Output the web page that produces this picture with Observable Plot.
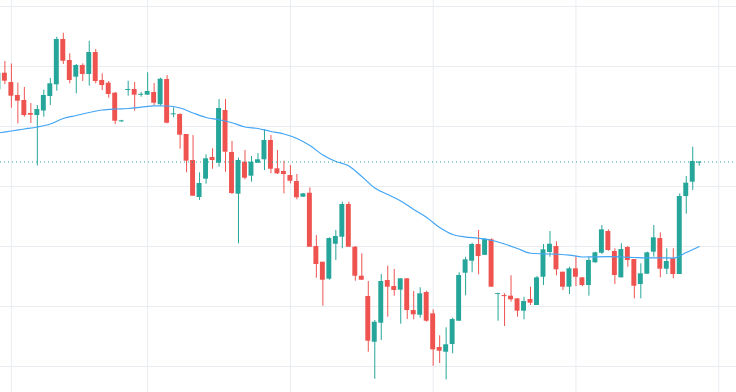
<!DOCTYPE html>
<html><head><meta charset="utf-8">
<script src="https://cdn.jsdelivr.net/npm/d3@7"></script>
<script src="https://cdn.jsdelivr.net/npm/@observablehq/plot@0.6"></script>
<style>html,body{margin:0;padding:0;background:#fff;overflow:hidden}</style>
</head><body><div id="chart"></div>
<script>
// Daily OHLC values, candle index 0..108
const opens = [
116.12, 118.88, 117.33, 115.17, 114.33, 112.17, 111.83, 112.58, 115, 116.95,
124.5, 121, 118.22, 120.17, 118.67, 122.33, 117.67, 117.22, 115.55, 110.78,
116.0, 116.17, 115.2, 115.22, 115.67, 113.62, 117.83, 111.95, 112, 108.67,
104.33, 98.17, 101.22, 104.83, 103.88, 112.67, 105.67, 98.72, 104.05, 101.72,
103.88, 104.45, 107.67, 102.95, 102.5, 101.83, 100.83, 98.22, 98.88, 90,
87.38, 84.55, 90.38, 91.55, 97, 89.88, 85.05, 81.67, 74.05, 77.22,
84.33, 83.33, 82.72, 84.62, 79.33, 78.55, 82.33, 78.78, 73.17, 72.38,
73.67, 77.55, 85.55, 87.55, 90.33, 88.53, 91.12, 82.0, 81.82, 81.72,
81.28, 79.22, 81.17, 80.17, 84.88, 89, 90, 85.72, 83.22, 86.28,
84.78, 83.5, 87.28, 88.88, 92.5, 89.17, 84.78, 89.83, 87.83, 83.67,
85.38, 89.05, 91.33, 86.22, 87.95, 85.33, 98.33, 100.72, 103.9
];
const highs = [
119.33, 120.83, 120.42, 117.25, 116.5, 113.83, 113.5, 116.08, 118, 124.88,
125.55, 122.12, 120.33, 120.45, 124.22, 122.83, 118.78, 117.5, 115.67, 111.03,
117.55, 117.33, 115.67, 118.95, 117.17, 118.05, 118.5, 113.12, 112.12, 108.67,
108.5, 102.28, 105.28, 106.28, 114.5, 114.5, 107.5, 104.72, 106, 105,
105.5, 109.45, 108.5, 106, 104.22, 103.5, 102, 98.78, 99.78, 91.83,
87.38, 91.45, 92.67, 97.38, 97.38, 90, 88.78, 84.17, 77.67, 85.33,
86.72, 86.17, 84.62, 84.62, 82.5, 83.12, 82.55, 79.45, 75.12, 76.45,
78.05, 85.62, 88.22, 90.55, 92.67, 91.28, 91.28, 82.22, 82.12, 85.12,
81.28, 81.55, 83.22, 85, 90.33, 92.5, 90.78, 85.72, 86.55, 88.33,
84.78, 88.22, 89.05, 93.5, 92.78, 89.62, 90.45, 90, 87.83, 87.12,
89.05, 93.5, 92.28, 89.62, 89.62, 98.78, 101.67, 106.55, 104.08
];
const lows = [
115.83, 117.0, 113.05, 110.45, 111.55, 110.5, 103.42, 111.55, 113.5, 115.88,
120.33, 117.12, 115.45, 117.5, 116.72, 117.12, 116, 114.72, 110.33, 110.67,
115.05, 112.55, 114.88, 115.22, 113.5, 113.38, 110.45, 111.45, 106.22, 102.28,
98.38, 97.67, 100.38, 102.88, 103.22, 102.38, 98.67, 90.45, 101.12, 100.72,
103.88, 102.67, 102.12, 102, 98.78, 100.45, 97.78, 98.22, 89.88, 84.72,
80.05, 84.38, 87.67, 89.62, 89.88, 84.22, 84.38, 72.38, 67.88, 74.33,
78.22, 81.72, 77.05, 77.83, 77.78, 78.05, 77.38, 70.05, 70.5, 67.78,
72.12, 77.55, 81.78, 85.62, 85.28, 88.5, 83.22, 77.55, 76.67, 80.72,
78.22, 77.78, 80.17, 80.17, 83.5, 88.22, 85.12, 82.67, 82, 83.33,
83.33, 81.72, 87.22, 88.67, 89.22, 83.67, 84.78, 86.55, 81.28, 81.28,
85.38, 88.22, 84.78, 85.33, 84.62, 85.33, 95.38, 99.33, 103.38
];
const closes = [
118.88, 117.55, 115.05, 114.22, 111.83, 111.88, 112.83, 115.17, 117.12, 124.5,
120.88, 117.67, 120.17, 118.67, 122.33, 117.5, 116.83, 115.33, 110.88, 110.95,
116.17, 115.22, 115.37, 115.83, 113.88, 117.88, 110.55, 112.12, 108.55, 104.22,
98.38, 100.5, 104.62, 104.33, 113, 105.72, 98.83, 104.33, 101.38, 104.05,
104.45, 107.67, 102.88, 102.12, 102, 100.88, 98.12, 98.78, 89.88, 87,
84.38, 91.33, 91.67, 97, 89.88, 85.05, 84.38, 74.22, 77.38, 84.17,
83.22, 82.67, 84.62, 79.33, 78.62, 82.12, 77.55, 72.78, 72.55, 73.62,
77.83, 85.17, 87.78, 90.33, 88.33, 91.2, 83.22, 82.15, 81.65, 81.12,
79.22, 80.83, 80.55, 84.78, 89.45, 90.38, 86.12, 83.22, 86.28, 84.88,
83.5, 87.67, 88.95, 92.78, 89.33, 85.17, 89.5, 87.67, 83.38, 85.45,
88.95, 91.45, 86.22, 87.5, 85.33, 98.33, 100.55, 104.17, 104.08
];
// Moving average
const maIdx = [0,2,4,6,8,10,12,14,16,18,20,22,24,26,28,30,32,34,36,38,40,42,44,46,48,50,52,54,56,58,60,62,64,66,68,70,72,74,76,78,80,82,84,86,88,90,92,94,96,98,100,102,104,106,108];
const maVals = [
108.92, 109.25, 109.58, 109.92, 110.42, 111.33, 111.83, 112.33, 112.75, 112.92,
113, 113.22, 113.45, 113.42, 113.08, 112.25, 111.5, 111.12, 110.62, 109.92,
109.67, 109.17, 108.75, 108, 106.83, 105.25, 104.17, 103.42, 101.67, 99.75,
98.67, 97.58, 96.17, 94.83, 93.17, 92, 91.58, 91.38, 91.05, 90.42,
89.67, 88.88, 88.78, 88.72, 88.58, 88.25, 88.28, 88.3, 88.25, 88.17,
88.12, 88.12, 88.08, 89, 90
];
const gridPrices = [70, 80, 90, 100, 110, 120, 130];
const monthStartIdx = [2, 23, 45, 67, 89, 111];

const UP = "#26a69a", DOWN = "#ef5350";
const candles = opens.map((o, i) => ({i, open: o, high: highs[i], low: lows[i], close: closes[i]}));
const ma = maIdx.map((i, k) => ({i, value: maVals[k]}));
const col = d => d.close >= d.open ? UP : DOWN;
const lastClose = closes[closes.length - 1];

const chart = Plot.plot({
  width: 736, height: 392,
  marginTop: 0, marginRight: 0, marginBottom: 0, marginLeft: 0,
  x: {type: "linear", domain: [0, 111], range: [-2.1, 718.2], axis: null},
  y: {type: "linear", domain: [65.67, 131], range: [392, 0], axis: null},
  color: {type: "identity"},
  style: {background: "#ffffff"},
  marks: [
    Plot.ruleY(gridPrices, {stroke: "#e9ecf1", strokeWidth: 1}),
    Plot.ruleX(monthStartIdx, {stroke: "#e9ecf1", strokeWidth: 1}),
    Plot.ruleX(candles, {x: "i", y1: "low", y2: "high", stroke: col, strokeWidth: 1}),
    Plot.rect(candles, {x1: d => d.i - 0.38, x2: d => d.i + 0.38, y1: "open", y2: "close", fill: col}),
    Plot.line(ma, {x: "i", y: "value", stroke: "#42a5f5", strokeWidth: 1.2, curve: "monotone-x"}),
    Plot.ruleY([lastClose], {stroke: UP, strokeWidth: 1, strokeDasharray: "1,3"})
  ]
});
document.getElementById("chart").appendChild(chart);
</script>
</body></html>
